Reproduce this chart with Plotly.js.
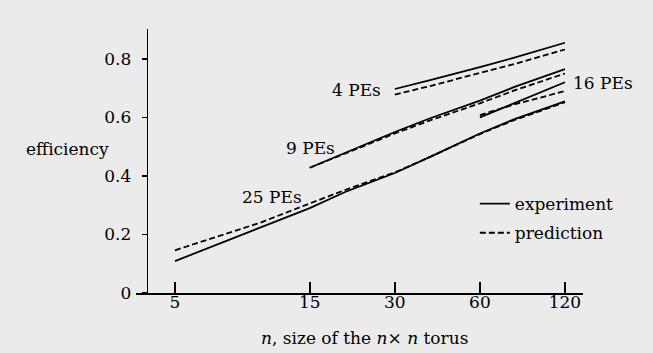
<!DOCTYPE html>
<html>
<head>
<meta charset="utf-8">
<script src="https://cdn.plot.ly/plotly-3.0.1.min.js"></script>
<style>
  html, body { margin: 0; padding: 0; background: #ebebeb; }
  #chart { width: 653px; height: 353px; }
</style>
</head>
<body>
<div id="chart"></div>
<script>
// ---- data ----
const xTicks = [5, 15, 30, 60, 120];
const xTickText = ['5', '15', '30', '60', '120'];
const yTicks = [0, 0.2, 0.4, 0.6, 0.8];
const yTickText = ['0', '0.2', '0.4', '0.6', '0.8'];

const n4 = [30, 40, 60, 80, 120];
const exp4 = [0.697, 0.727, 0.772, 0.805, 0.855];
const pred4 = [0.678, 0.707, 0.752, 0.783, 0.832];

const n9 = [15, 20, 30, 40, 60, 80, 120];
const exp9 = [0.428, 0.479, 0.550, 0.597, 0.657, 0.705, 0.765];
const pred9 = [0.428, 0.477, 0.545, 0.590, 0.648, 0.693, 0.750];

const n16 = [60, 80, 120];
const exp16 = [0.600, 0.650, 0.720];
const pred16 = [0.608, 0.645, 0.690];

const n25 = [5, 7, 10, 15, 20, 30, 40, 60, 80, 120];
const exp25 = [0.109, 0.165, 0.224, 0.290, 0.345, 0.410, 0.465, 0.545, 0.595, 0.655];
const pred25 = [0.146, 0.192, 0.240, 0.306, 0.352, 0.412, 0.465, 0.543, 0.592, 0.652];

const seriesLabels = ['4 PEs', '9 PEs', '16 PEs', '25 PEs'];
const legendNames = ['experiment', 'prediction'];

// ---- styling ----
const FONT = 'DejaVu Serif, Liberation Serif, serif';
const INK = '#000000';
const BG = '#ebebeb';
const solid = { color: INK, width: 1.8 };
const dashed = { color: INK, width: 1.8, dash: '6px,3px' };

function tr(x, y, line, name, show, group) {
  return { x: x, y: y, type: 'scatter', mode: 'lines', line: line,
           name: name, showlegend: show, legendgroup: group, hoverinfo: 'skip' };
}

const data = [
  tr(n25, exp25, solid, legendNames[0], true, 'e'),
  tr(n25, pred25, dashed, legendNames[1], true, 'p'),
  tr(n4, exp4, solid, legendNames[0], false, 'e'),
  tr(n4, pred4, dashed, legendNames[1], false, 'p'),
  tr(n9, exp9, solid, legendNames[0], false, 'e'),
  tr(n9, pred9, dashed, legendNames[1], false, 'p'),
  tr(n16, exp16, solid, legendNames[0], false, 'e'),
  tr(n16, pred16, dashed, legendNames[1], false, 'p')
];

function label(text, x, y) {
  return { text: text, xref: 'paper', yref: 'paper', x: x, y: y,
           xanchor: 'center', yanchor: 'middle', showarrow: false,
           font: { family: FONT, size: 17, color: INK } };
}

const layout = {
  width: 653, height: 353,
  margin: { l: 136, r: 70, t: 29, b: 60, pad: 0 },
  paper_bgcolor: BG, plot_bgcolor: BG,
  font: { family: FONT, size: 17, color: INK },
  showlegend: true,
  legend: {
    x: 0.758, y: 0.405, xanchor: 'left', yanchor: 'top',
    bgcolor: 'rgba(0,0,0,0)', borderwidth: 0,
    font: { family: FONT, size: 17, color: INK },
    tracegroupgap: 4, traceorder: 'grouped'
  },
  xaxis: {
    type: 'log', range: [Math.log10(3.64), Math.log10(139)],
    tickmode: 'array', tickvals: xTicks, ticktext: xTickText,
    ticks: 'inside', ticklen: 11, tickwidth: 1.5, tickcolor: INK,
    ticklabelstandoff: -7,
    showline: true, linewidth: 1.5, linecolor: INK,
    showgrid: false, zeroline: false,
    tickfont: { family: FONT, size: 17, color: INK }
  },
  yaxis: {
    range: [0, 0.902], anchor: 'free', position: 0.024,
    tickmode: 'array', tickvals: yTicks, ticktext: yTickText,
    ticks: 'outside', ticklen: 5, tickwidth: 1.5, tickcolor: INK,
    ticklabelstandoff: 7,
    showline: true, linewidth: 1.5, linecolor: INK,
    showgrid: false, zeroline: false,
    tickfont: { family: FONT, size: 17, color: INK }
  },
  annotations: [
    label('efficiency', -0.1532, 0.5455),
    label(seriesLabels[0], 0.4933, 0.769),
    label(seriesLabels[1], 0.3904, 0.5511),
    label(seriesLabels[2], 1.0438, 0.7973),
    label(seriesLabels[3], 0.3043, 0.3655),
    label('<i>n</i>, size of the <i>n</i>× <i>n</i> torus', 0.5123, -0.1705)
  ]
};

Plotly.newPlot('chart', data, layout, { displayModeBar: false, staticPlot: true });
</script>
</body>
</html>
